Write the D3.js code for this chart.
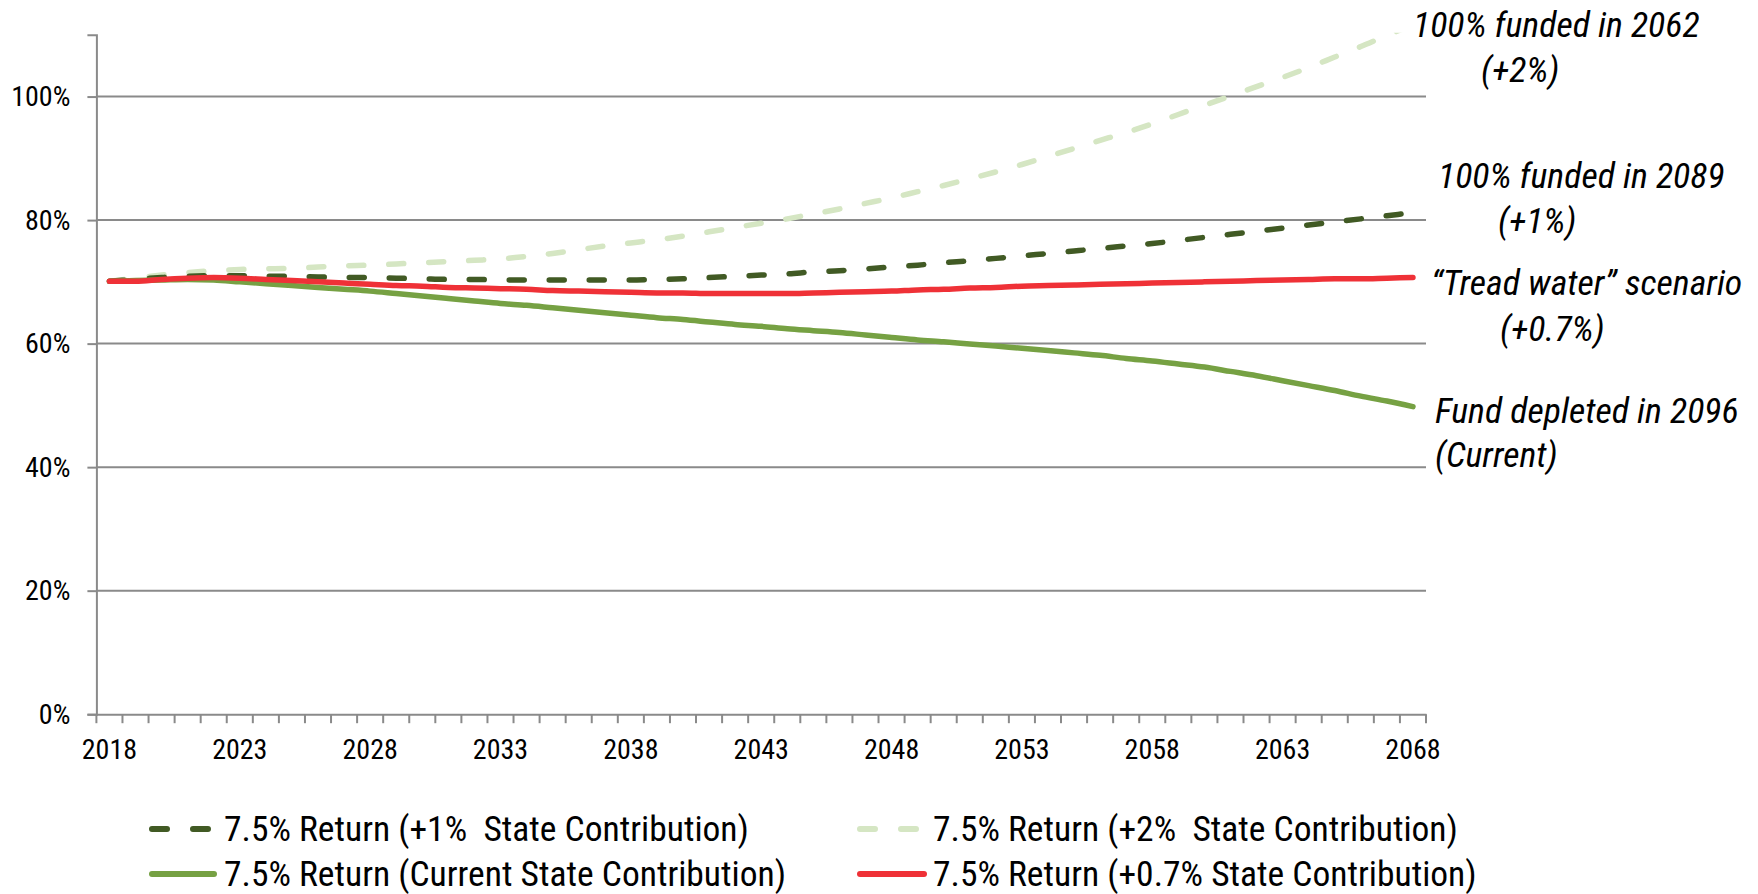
<!DOCTYPE html>
<html><head><meta charset="utf-8">
<script src="https://cdn.jsdelivr.net/npm/d3@7"></script>
<style>
html,body{margin:0;padding:0;background:#fff;overflow:hidden;}
svg{display:block;}
text{font-family:"Liberation Sans Narrow","Arial Narrow","Roboto Condensed",sans-serif;fill:#000;white-space:pre;}
</style></head><body>
<svg id="chart" width="1758" height="894"></svg>
<script>
// ---------- DATA ----------
const years = [2018,2019,2020,2021,2022,2023,2024,2025,2026,2027,2028,2029,2030,2031,2032,2033,2034,2035,2036,2037,2038,2039,2040,2041,2042,2043,2044,2045,2046,2047,2048,2049,2050,2051,2052,2053,2054,2055,2056,2057,2058,2059,2060,2061,2062,2063,2064,2065,2066,2067,2068];
const xTickYears = [2018,2023,2028,2033,2038,2043,2048,2053,2058,2063,2068];
const yTickValues = [0,20,40,60,80,100];

const plus1Values = [70.1,70.4,70.7,70.9,71.0,71.0,70.9,70.9,70.8,70.7,70.7,70.6,70.5,70.4,70.4,70.3,70.3,70.3,70.3,70.3,70.3,70.4,70.5,70.7,70.9,71.1,71.3,71.6,71.8,72.1,72.4,72.7,73.1,73.4,73.8,74.2,74.6,75.0,75.4,75.8,76.2,76.7,77.2,77.7,78.2,78.7,79.2,79.7,80.2,80.7,81.2];
const plus2Values = [70.1,70.6,71.1,71.5,71.8,72.0,72.1,72.2,72.4,72.6,72.7,72.9,73.1,73.3,73.5,73.7,74.1,74.6,75.2,75.8,76.3,76.8,77.4,78.1,78.8,79.5,80.2,81.0,81.8,82.7,83.6,84.6,85.6,86.7,87.8,89.0,90.3,91.6,92.9,94.2,95.6,97.1,98.6,100.1,101.6,103.1,104.7,106.4,108.1,109.9,111.6];
const currentValues = [70.1,70.2,70.3,70.4,70.3,70.0,69.7,69.4,69.1,68.8,68.5,68.1,67.7,67.3,66.9,66.5,66.2,65.8,65.4,65.0,64.6,64.2,63.9,63.5,63.1,62.8,62.4,62.1,61.8,61.4,61.0,60.6,60.3,59.95,59.6,59.25,58.9,58.5,58.1,57.6,57.2,56.7,56.2,55.5,54.8,54.0,53.2,52.4,51.5,50.7,49.8];
const plus07Values = [70.1,70.1,70.4,70.6,70.7,70.6,70.4,70.2,70.0,69.8,69.6,69.4,69.3,69.1,69.0,68.9,68.8,68.6,68.5,68.4,68.3,68.2,68.2,68.1,68.1,68.1,68.1,68.2,68.3,68.4,68.5,68.7,68.8,69.0,69.1,69.3,69.4,69.5,69.6,69.7,69.8,69.9,70.0,70.1,70.2,70.3,70.4,70.5,70.5,70.6,70.7];

const seriesNames = [
  "7.5% Return (+1%  State Contribution)",
  "7.5% Return (+2%  State Contribution)",
  "7.5% Return (Current State Contribution)",
  "7.5% Return (+0.7% State Contribution)"
];
const annotationLines = [
  ["100% funded in 2062", "(+2%)"],
  ["100% funded in 2089", "(+1%)"],
  ["\u201CTread water\u201D scenario", "(+0.7%)"],
  ["Fund depleted in 2096", "(Current)"]
];

// ---------- STYLE / LAYOUT ----------
const seriesData = [plus1Values, plus2Values, currentValues, plus07Values];
const styles = [
  {color:"#415a24", dash:"15,25"},
  {color:"#d5e6c3", dash:"15,25"},
  {color:"#76a143", dash:null},
  {color:"#ef3137", dash:null}
];
const drawOrder = [1,0,2,3];
const plot = {left:96.4, right:1426, top:34.8, bottom:714.2};
const gridColor = "#8a8a8a";

const svg = d3.select("#chart");
const x = d3.scaleBand().domain(years).range([plot.left, plot.right]).padding(0);
const y = d3.scaleLinear().domain([0,110]).range([plot.bottom, plot.top]);
const cx = yr => x(yr) + x.bandwidth()/2;

svg.append("defs").append("clipPath").attr("id","plotclip")
  .append("rect").attr("x", 0).attr("y", plot.top - 2)
  .attr("width", plot.right + 20).attr("height", plot.bottom - plot.top + 20);

// gridlines
svg.append("g").selectAll("line").data(yTickValues.filter(v=>v>0)).join("line")
  .attr("x1", plot.left).attr("x2", plot.right)
  .attr("y1", d=>y(d)).attr("y2", d=>y(d))
  .attr("stroke", gridColor).attr("stroke-width", 2);

// y axis
const yAxis = svg.append("g").attr("transform", `translate(${plot.left},0)`)
  .call(d3.axisLeft(y).tickValues(yTickValues).tickSize(9).tickPadding(17).tickFormat(d=>d+"%"));
yAxis.select(".domain").attr("stroke", gridColor).attr("stroke-width", 2);
yAxis.selectAll(".tick line").attr("stroke", gridColor).attr("stroke-width", 2);
yAxis.selectAll("text").attr("font-size", 28).attr("font-family", null).attr("fill","#000");

// x axis
const xAxis = svg.append("g").attr("transform", `translate(0,${plot.bottom})`)
  .call(d3.axisBottom(x).tickValues(xTickYears).tickSize(0).tickPadding(25));
xAxis.select(".domain").attr("stroke", gridColor).attr("stroke-width", 2);
xAxis.selectAll("text").attr("font-size", 28).attr("font-family", null).attr("fill","#000");
// minor ticks at category boundaries
const boundaries = years.map(yr => x(yr)).concat([x(years[years.length-1]) + x.bandwidth()]);
svg.append("g").selectAll("line").data(boundaries).join("line")
  .attr("x1", d=>d).attr("x2", d=>d)
  .attr("y1", plot.bottom).attr("y2", plot.bottom + 9)
  .attr("stroke", gridColor).attr("stroke-width", 2);

// lines
const line = d3.line().x((d,i)=>cx(years[i])).y(d=>y(d)).curve(d3.curveMonotoneX);
const linesG = svg.append("g").attr("clip-path","url(#plotclip)");
drawOrder.forEach(i => {
  const p = linesG.append("path").datum(seriesData[i])
    .attr("d", line).attr("fill","none")
    .attr("stroke", styles[i].color).attr("stroke-width", 5.5)
    .attr("stroke-linecap","round").attr("stroke-linejoin","round");
  if (styles[i].dash) p.attr("stroke-dasharray", styles[i].dash);
});

// annotations
const annPos = [
  [{x:1413, y:37},{x:1481, y:82}],
  [{x:1438, y:188},{x:1498, y:233}],
  [{x:1431, y:295},{x:1500, y:341}],
  [{x:1435, y:423},{x:1435, y:467}]
];
annotationLines.forEach((lines, i) => {
  lines.forEach((t, j) => {
    svg.append("text").attr("x", annPos[i][j].x).attr("y", annPos[i][j].y)
      .attr("font-size", 35.8).attr("font-style","italic").text(t);
  });
});

// legend
const legPos = [
  {x:149, y:829, lw:62},
  {x:857, y:829, lw:62},
  {x:149, y:874, lw:68},
  {x:857, y:874, lw:70}
];
seriesNames.forEach((name, i) => {
  const g = svg.append("g");
  const p = g.append("line").attr("x1", legPos[i].x + 3).attr("x2", legPos[i].x + legPos[i].lw - 3)
    .attr("y1", legPos[i].y).attr("y2", legPos[i].y)
    .attr("stroke", styles[i].color).attr("stroke-width", 6).attr("stroke-linecap","round");
  if (styles[i].dash) p.attr("stroke-dasharray", "15,26");
  g.append("text").attr("x", 224 + (i%2)*(933-224)).attr("y", legPos[i].y + 12)
    .attr("font-size", 35.5).attr("xml:space","preserve").text(name);
});
</script>
</body></html>
